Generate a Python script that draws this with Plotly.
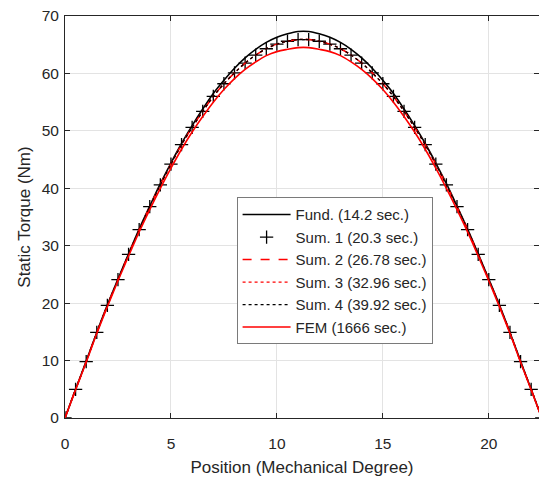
import plotly.graph_objects as go

# Positions (mechanical degree), 0.5 deg steps over one period
position = [0.0, 0.5, 1.0, 1.5, 2.0, 2.5, 3.0, 3.5, 4.0, 4.5, 5.0, 5.5, 6.0, 6.5, 7.0, 7.5,
            8.0, 8.5, 9.0, 9.5, 10.0, 10.5, 11.0, 11.5, 12.0, 12.5, 13.0, 13.5, 14.0, 14.5,
            15.0, 15.5, 16.0, 16.5, 17.0, 17.5, 18.0, 18.5, 19.0, 19.5, 20.0, 20.5, 21.0,
            21.5, 22.0, 22.5]

fund = [0.0, 5.0, 9.9, 14.9, 19.7, 24.2, 28.6, 32.9, 36.9, 40.8, 44.4, 47.8, 50.9, 53.8,
        56.5, 58.8, 60.9, 62.7, 64.2, 65.4, 66.3, 66.9, 67.3, 67.3, 66.9, 66.3, 65.4, 64.2,
        62.7, 60.9, 58.8, 56.5, 53.8, 50.9, 47.8, 44.4, 40.8, 36.9, 32.9, 28.6, 24.2, 19.7,
        14.9, 9.9, 5.0, 0.0]

sum1 = [0.0, 5.0, 9.8, 14.9, 19.6, 24.1, 28.5, 32.8, 36.8, 40.6, 44.2, 47.6, 50.6, 53.4,
        56.0, 58.2, 60.1, 61.8, 63.2, 64.3, 65.1, 65.6, 65.9, 65.9, 65.6, 65.1, 64.3, 63.2,
        61.8, 60.1, 58.2, 56.0, 53.4, 50.6, 47.6, 44.2, 40.6, 36.8, 32.8, 28.5, 24.1, 19.6,
        14.9, 9.8, 5.0, 0.0]

sum2 = [0.0, 5.0, 9.8, 14.9, 19.6, 24.1, 28.5, 32.8, 36.8, 40.6, 44.2, 47.6, 50.6, 53.4,
        56.0, 58.2, 60.1, 61.8, 63.2, 64.3, 65.1, 65.6, 65.9, 65.9, 65.6, 65.1, 64.3, 63.2,
        61.8, 60.1, 58.2, 56.0, 53.4, 50.6, 47.6, 44.2, 40.6, 36.8, 32.8, 28.5, 24.1, 19.6,
        14.9, 9.8, 5.0, 0.0]

sum3 = [0.0, 5.0, 9.8, 14.9, 19.6, 24.1, 28.5, 32.8, 36.8, 40.6, 44.2, 47.6, 50.6, 53.4,
        56.0, 58.2, 60.1, 61.8, 63.2, 64.3, 65.1, 65.6, 65.9, 65.9, 65.6, 65.1, 64.3, 63.2,
        61.8, 60.1, 58.2, 56.0, 53.4, 50.6, 47.6, 44.2, 40.6, 36.8, 32.8, 28.5, 24.1, 19.6,
        14.9, 9.8, 5.0, 0.0]

sum4 = [0.0, 5.0, 9.8, 14.9, 19.6, 24.1, 28.5, 32.8, 36.8, 40.6, 44.2, 47.6, 50.6, 53.4,
        56.0, 58.2, 60.1, 61.8, 63.2, 64.3, 65.1, 65.6, 65.9, 65.9, 65.6, 65.1, 64.3, 63.2,
        61.8, 60.1, 58.2, 56.0, 53.4, 50.6, 47.6, 44.2, 40.6, 36.8, 32.8, 28.5, 24.1, 19.6,
        14.9, 9.8, 5.0, 0.0]

fem = [0.0, 4.9, 9.7, 14.7, 19.4, 23.9, 28.2, 32.4, 36.3, 40.0, 43.5, 46.8, 49.8, 52.5,
       55.0, 57.2, 59.1, 60.7, 62.0, 63.1, 63.8, 64.2, 64.5, 64.5, 64.2, 63.8, 63.1, 62.0,
       60.7, 59.1, 57.2, 55.0, 52.5, 49.8, 46.8, 43.5, 40.0, 36.3, 32.4, 28.2, 23.9, 19.4,
       14.7, 9.7, 4.9, 0.0]

names = ["Fund. (14.2 sec.)", "Sum. 1 (20.3 sec.)", "Sum. 2 (26.78 sec.)",
         "Sum. 3 (32.96 sec.)", "Sum. 4 (39.92 sec.)", "FEM (1666 sec.)"]

x_ticks = [0, 5, 10, 15, 20]
y_ticks = [0, 10, 20, 30, 40, 50, 60, 70]

FONT = "Liberation Sans, Arial, sans-serif"
TXT = "#262626"

fig = go.Figure()
fig.add_trace(go.Scatter(x=position, y=fund, name=names[0], mode="lines",
                         line=dict(color="black", width=1.6, shape="spline")))
fig.add_trace(go.Scatter(x=position, y=sum1, name=names[1], mode="markers",
                         marker=dict(symbol="cross-thin", size=9.5,
                                     line=dict(color="black", width=1.3))))
fig.add_trace(go.Scatter(x=position, y=sum2, name=names[2], mode="lines",
                         line=dict(color="red", width=1.5, dash="dash", shape="spline")))
fig.add_trace(go.Scatter(x=position, y=sum3, name=names[3], mode="lines",
                         line=dict(color="red", width=1.3, dash="dot", shape="spline")))
fig.add_trace(go.Scatter(x=position, y=sum4, name=names[4], mode="lines",
                         line=dict(color="black", width=1.3, dash="dot", shape="spline")))
fig.add_trace(go.Scatter(x=position, y=fem, name=names[5], mode="lines",
                         line=dict(color="red", width=1.6, shape="spline")))

axis_common = dict(
    showline=True, linecolor=TXT, linewidth=1, mirror="ticks",
    ticks="inside", ticklen=5, tickcolor=TXT, tickwidth=1,
    showgrid=True, gridcolor="#e3e3e3", gridwidth=1,
    zeroline=False, tickfont=dict(family=FONT, size=15.5, color=TXT),
)

fig.update_xaxes(range=[0, 22.37], tickvals=x_ticks, ticklabelstandoff=11,
                 title=dict(text="Position (Mechanical Degree)",
                            font=dict(family=FONT, size=17, color=TXT), standoff=10),
                 **axis_common)
fig.update_yaxes(range=[0, 70], tickvals=y_ticks, ticklabelstandoff=2,
                 title=dict(text="Static Torque (Nm)",
                            font=dict(family=FONT, size=17, color=TXT), standoff=6),
                 **axis_common)

fig.update_layout(
    width=539, height=477,
    margin=dict(l=65, r=0, t=16, b=59),
    plot_bgcolor="white", paper_bgcolor="white",
    font=dict(family=FONT, color=TXT),
    legend=dict(x=0.362, y=0.549, xanchor="left", yanchor="top",
                bgcolor="white", bordercolor="#7a7a7a", borderwidth=1,
                font=dict(family=FONT, size=15, color=TXT),
                itemwidth=48, tracegroupgap=0),
    showlegend=True,
)

fig.write_html(
    "out.html",
    config={"displayModeBar": False},
    post_script="document.body.style.margin='0';document.body.style.overflow='hidden';",
)
